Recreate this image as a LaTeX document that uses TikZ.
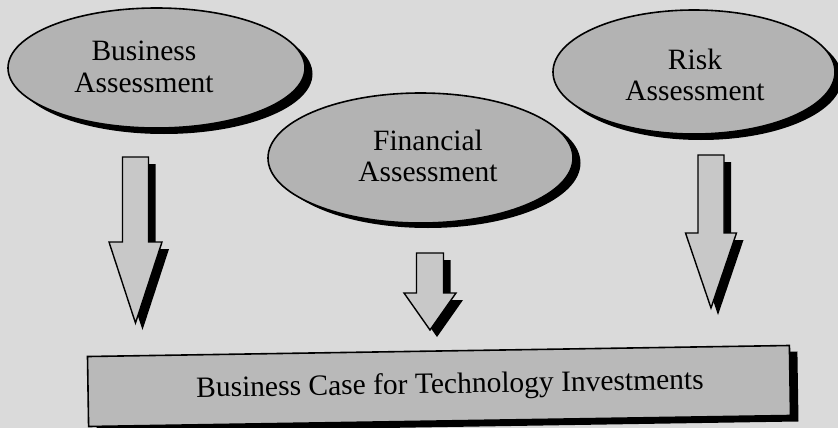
\documentclass[tikz,border=0pt]{standalone}
\usepackage{fontspec}
\setmainfont{Liberation Serif}
\usetikzlibrary{shapes.geometric}

\definecolor{paper}{HTML}{DADADA}
\definecolor{bubblefill}{HTML}{B3B3B3}
\definecolor{arrowfill}{HTML}{C8C8C8}
\definecolor{boxfill}{HTML}{B9B9B9}

\tikzset{
  bubble/.style={ellipse, draw=black, line width=1.6pt, fill=bubblefill,
                 inner sep=0pt, outer sep=0pt},
  bubbleshadow/.style={ellipse, fill=black, draw=none, inner sep=0pt, outer sep=0pt},
  lbl/.style={font=\fontsize{29.5}{31.5}\selectfont, align=center, text=black, inner sep=0pt},
  arrowbody/.style={draw=black, line width=1.4pt, fill=arrowfill, line join=miter},
  arrowshadow/.style={fill=black, draw=none},
  casebox/.style={rectangle, draw=black, line width=1.6pt, fill=boxfill,
                  inner sep=0pt, outer sep=0pt, rotate=0.9},
  caseshadow/.style={rectangle, fill=black, draw=none, inner sep=0pt, outer sep=0pt, rotate=0.9},
}

% block arrow pointing down: centre x, top, neck, tip, half shaft width, half head width
\newcommand\downblock[6]{%
  (#1-#5,#2) -- (#1+#5,#2) -- (#1+#5,#3) -- (#1+#6,#3) -- (#1,#4)
  -- (#1-#6,#3) -- (#1-#5,#3) -- cycle}

\begin{document}
\begin{tikzpicture}[x=1pt, y=-1pt]
  \useasboundingbox (0,0) rectangle (838,428);
  \fill[paper] (0,0) rectangle (838,428);

  % the three assessments
  \node[bubbleshadow, minimum width=297pt, minimum height=120pt] (busS) at (164,74) {};
  \node[bubble, minimum width=297pt, minimum height=120pt] (bus) at (156.5,68) {};
  \node[lbl] (busT) at (144,67) {Business\\Assessment};

  \node[bubbleshadow, minimum width=305pt, minimum height=130pt] (finS) at (428,163) {};
  \node[bubble, minimum width=305pt, minimum height=130pt] (fin) at (420.5,158) {};
  \node[lbl] (finT) at (428,156) {Financial\\Assessment};

  \node[bubbleshadow, minimum width=282pt, minimum height=124pt] (riskS) at (701,78) {};
  \node[bubble, minimum width=282pt, minimum height=124pt] (risk) at (694,72) {};
  \node[lbl] (riskT) at (695,75) {Risk\\Assessment};

  % block arrows feeding the business case
  \begin{scope}[shift={(7,7)}]
    \fill[arrowshadow] \downblock{135.5}{157}{242}{323}{13}{26.5};
    \fill[arrowshadow] \downblock{430}{253}{293}{330}{13.5}{26};
    \fill[arrowshadow] \downblock{711}{155}{233}{308}{13}{25.5};
  \end{scope}
  \draw[arrowbody] \downblock{135.5}{157}{242}{323}{13}{26.5};
  \draw[arrowbody] \downblock{430}{253}{293}{330}{13.5}{26};
  \draw[arrowbody] \downblock{711}{155}{233}{308}{13}{25.5};

  % the business case
  \node[caseshadow, minimum width=702pt, minimum height=70pt] (caseS) at (447,392) {};
  \node[casebox, minimum width=702pt, minimum height=70pt] (case) at (439,386) {};
  \node[lbl, rotate=0.9] (caseT) at (450,386) {Business Case for Technology Investments};
\end{tikzpicture}
\end{document}
